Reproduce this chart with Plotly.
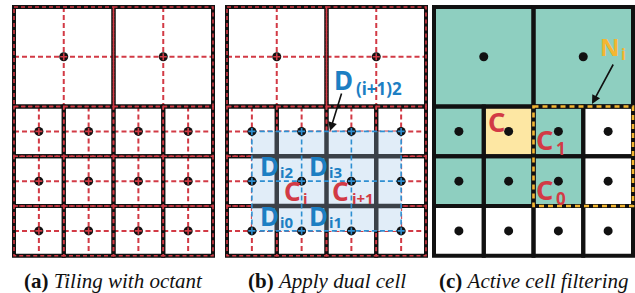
import plotly.graph_objects as go

# ---------------- data ----------------
panel_names = ["(a)", "(b)", "(c)"]
panel_captions = ["Tiling with octant", "Apply dual cell", "Active cell filtering"]

# octree leaf cells in grid units (4 columns x 5 rows)
cell_col = [0, 2, 0, 1, 2, 3, 0, 1, 2, 3, 0, 1, 2, 3]
cell_row = [0, 0, 2, 2, 2, 2, 3, 3, 3, 3, 4, 4, 4, 4]
cell_size = [2, 2, 1, 1, 1, 1, 1, 1, 1, 1, 1, 1, 1, 1]

# panel (c): state of each cell
cell_state = ["active", "active",
              "active", "current", "active", "empty",
              "active", "active", "active", "empty",
              "empty", "empty", "empty", "empty"]

# panel (b): dual-cell region spans centres of these small cells (col range, row range)
dual_cols = [0, 3]
dual_rows = [2, 4]

# panel (c): neighbour box N_i (col range, row range, inclusive)
nbox_cols = [2, 3]
nbox_rows = [2, 3]

# ---------------- geometry ----------------
W, H = 635, 293
left = [14, 227, 434]
top = 7
U = 49.75

RED = "#d23a45"
BLACK = "#111111"
BLUE_TXT = "#1d7fc3"
BLUE_LN = "#2d8fd2"
BLUE_FILL = "#e1edf8"
GRAY = "#3b4148"
TEAL = "#8ecfc0"
YELLOW = "#fde7a3"
GOLD = "#f4b632"
state_color = {"active": TEAL, "current": YELLOW, "empty": "white"}


def box(p, c, r, s):
    x0 = left[p] + c * U
    y0 = top + r * U
    return x0, y0, x0 + s * U, y0 + s * U


shapes = []


def line(x0, y0, x1, y1, color, width, dash="solid"):
    shapes.append(dict(type="line", xref="x", yref="y", x0=x0, y0=y0, x1=x1, y1=y1,
                       line=dict(color=color, width=width, dash=dash), layer="below"))


def rect(x0, y0, x1, y1, fill=None, color=None, width=0, dash="solid"):
    d = dict(type="rect", xref="x", yref="y", x0=x0, y0=y0, x1=x1, y1=y1, layer="below",
             line=dict(color=color if color else "rgba(0,0,0,0)", width=width, dash=dash))
    if fill:
        d["fillcolor"] = fill
    shapes.append(d)


# panels (a) and (b): red dashed centre lines then bordered cells
for p in (0, 1):
    for c, r, s in zip(cell_col, cell_row, cell_size):
        x0, y0, x1, y1 = box(p, c, r, s)
        cx, cy = (x0 + x1) / 2, (y0 + y1) / 2
        line(x0, cy, x1, cy, RED, 2, "5px,3px")
        line(cx, y0, cx, y1, RED, 2, "5px,3px")
    for c, r, s in zip(cell_col, cell_row, cell_size):
        x0, y0, x1, y1 = box(p, c, r, s)
        rect(x0, y0, x1, y1, color=BLACK, width=4)
    for c, r, s in zip(cell_col, cell_row, cell_size):
        x0, y0, x1, y1 = box(p, c, r, s)
        rect(x0, y0, x1, y1, color=RED, width=1.6, dash="4px,3px")

# panel (b): dual cell region
dx0 = left[1] + (dual_cols[0] + 0.5) * U
dx1 = left[1] + (dual_cols[1] + 0.5) * U
dy0 = top + (dual_rows[0] + 0.5) * U
dy1 = top + (dual_rows[1] + 0.5) * U
rect(dx0, dy0, dx1, dy1, fill=BLUE_FILL)
for k in range(dual_cols[0] + 1, dual_cols[1] + 1):
    x = left[1] + k * U
    line(x, dy0, x, dy1, GRAY, 4.5)
for k in range(dual_rows[0] + 1, dual_rows[1] + 1):
    y = top + k * U
    line(dx0, y, dx1, y, GRAY, 4.5)
for k in range(dual_cols[0], dual_cols[1] + 1):
    x = left[1] + (k + 0.5) * U
    line(x, dy0, x, dy1, BLUE_LN, 1.6, "5px,3px")
for k in range(dual_rows[0], dual_rows[1] + 1):
    y = top + (k + 0.5) * U
    line(dx0, y, dx1, y, BLUE_LN, 1.6, "5px,3px")

# panel (c): filled cells
for c, r, s, st in zip(cell_col, cell_row, cell_size, cell_state):
    x0, y0, x1, y1 = box(2, c, r, s)
    rect(x0, y0, x1, y1, fill=state_color[st])
for c, r, s in zip(cell_col, cell_row, cell_size):
    x0, y0, x1, y1 = box(2, c, r, s)
    rect(x0, y0, x1, y1, color=BLACK, width=4)
nx0 = left[2] + nbox_cols[0] * U
nx1 = left[2] + (nbox_cols[1] + 1) * U
ny0 = top + nbox_rows[0] * U
ny1 = top + (nbox_rows[1] + 1) * U
rect(nx0, ny0, nx1, ny1, color=BLACK, width=4)
rect(nx0, ny0, nx1, ny1, color=GOLD, width=2.6, dash="5px,4px")

# ---------------- traces: cell centre dots ----------------
fig = go.Figure()
for p in range(3):
    xs, ys = [], []
    for c, r, s in zip(cell_col, cell_row, cell_size):
        x0, y0, x1, y1 = box(p, c, r, s)
        xs.append((x0 + x1) / 2)
        ys.append((y0 + y1) / 2)
    fig.add_trace(go.Scatter(x=xs, y=ys, mode="markers", hoverinfo="skip",
                             marker=dict(size=9, color=BLACK, line=dict(width=0))))
    if p < 2:
        cross_col = [RED if (p == 0 or s == 2) else BLUE_LN for s in cell_size]
        fig.add_trace(go.Scatter(x=xs, y=ys, mode="markers", hoverinfo="skip",
                                 marker=dict(symbol="cross-thin", size=5,
                                             line=dict(width=1.6, color=cross_col))))

# ---------------- annotations ----------------
ann = []
LF = "Noto Sans"


def lab(x, y, t, color, size):
    ann.append(dict(x=x, y=y, xref="x", yref="y", text="<b>" + t + "</b>", showarrow=False,
                    xanchor="center", yanchor="middle", borderpad=0,
                    font=dict(family=LF, size=size, color=color)))


# panel (b) labels
lab(343, 80, "D", BLUE_TXT, 26)
lab(379, 88, "(i+1)2", BLUE_TXT, 17)
for (x, y, sub) in [(269, 166, "i2"), (318, 166, "i3"), (269, 216, "i0"), (318, 216, "i1")]:
    lab(x, y, "D", BLUE_TXT, 26)
    lab(x + 17, y + 6, sub, BLUE_TXT, 15)
lab(292, 191, "C", RED, 26)
lab(305, 198, "i", RED, 15)
lab(340, 191, "C", RED, 26)
lab(363, 198, "i+1", RED, 15)

# panel (c) labels
lab(610, 46, "N", GOLD, 24)
lab(623, 54, "i", GOLD, 16)
lab(496, 121, "C", RED, 27)
lab(544, 139, "C", RED, 27)
lab(561, 148, "1", RED, 17)
lab(544, 189, "C", RED, 27)
lab(561, 198, "0", RED, 17)

# arrows
for (tx, ty, hx, hy) in [(342, 92, 330, 131), (614, 63, 592, 104)]:
    ann.append(dict(x=hx, y=hy, ax=tx, ay=ty, xref="x", yref="y", axref="x", ayref="y",
                    text="", showarrow=True, arrowhead=2, arrowsize=1.1, arrowwidth=1.6,
                    arrowcolor=BLACK, standoff=0))

# captions
for p in range(3):
    cx = left[p] + 2 * U
    ann.append(dict(x=cx, y=281, xref="x", yref="y",
                    text="<b>" + panel_names[p] + "</b> <i>" + panel_captions[p] + "</i>",
                    showarrow=False, xanchor="center", yanchor="middle",
                    font=dict(family="Liberation Serif", size=21, color=BLACK)))

fig.update_layout(
    width=W, height=H, margin=dict(l=0, r=0, t=0, b=0),
    paper_bgcolor="white", plot_bgcolor="rgba(0,0,0,0)",
    showlegend=False, shapes=shapes, annotations=ann,
    xaxis=dict(range=[0, W], visible=False, fixedrange=True),
    yaxis=dict(range=[H, 0], visible=False, fixedrange=True),
)
fig.write_html("out.html", config={"displayModeBar": False},
               post_script="document.body.style.margin='0px';document.body.style.overflow='hidden';")
